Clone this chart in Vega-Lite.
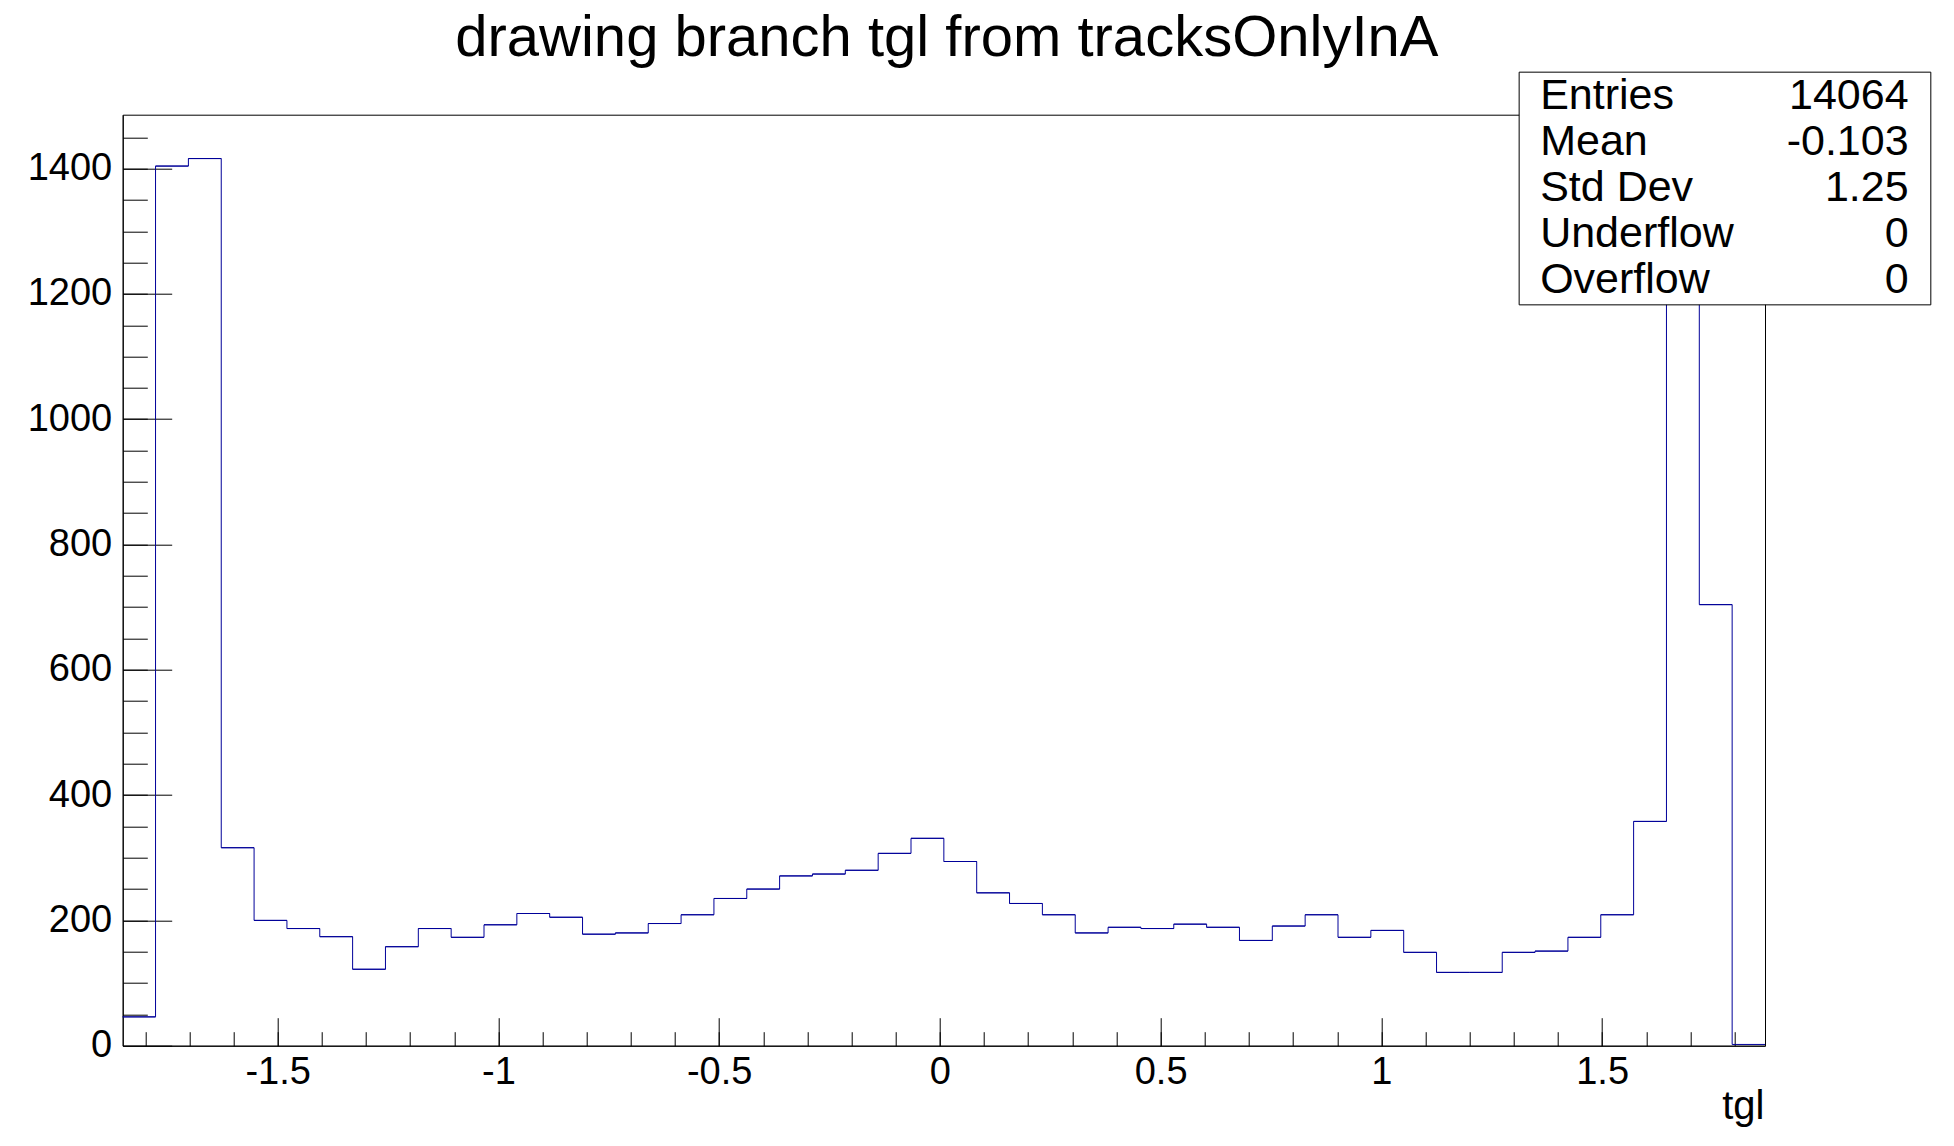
{
  "$schema": "https://vega.github.io/schema/vega-lite/v6.json",
  "width": 1642.3,
  "height": 931,
  "autosize": {"type": "none"},
  "padding": {"left": 122.7, "top": 114.7, "right": 189, "bottom": 100.3},
  "background": "white",
  "title": {"text": "drawing branch tgl from tracksOnlyInA", "font": "Liberation Sans", "fontSize": 58, "fontWeight": "normal", "color": "black", "anchor": "middle", "frame": "group", "baseline": "alphabetic", "offset": 17, "dx": 3, "dy": 59},
  "config": {
    "view": {"stroke": "black", "strokeWidth": 1},
    "axis": {"labelFont": "Liberation Sans", "labelFontSize": 38, "labelColor": "black", "tickColor": "black", "tickWidth": 1, "domainColor": "black", "domainWidth": 1, "grid": false, "titleFont": "Liberation Sans", "titleColor": "black", "titleFontWeight": "normal"}
  },
  "datasets": {
    "bins": [
      {"lo": -1.851, "hi": -1.7766, "count": 46},
      {"lo": -1.7766, "hi": -1.7022, "count": 1404},
      {"lo": -1.7022, "hi": -1.6278, "count": 1416},
      {"lo": -1.6278, "hi": -1.5534, "count": 316},
      {"lo": -1.5534, "hi": -1.479, "count": 200},
      {"lo": -1.479, "hi": -1.4046, "count": 187},
      {"lo": -1.4046, "hi": -1.3302, "count": 174},
      {"lo": -1.3302, "hi": -1.2558, "count": 122},
      {"lo": -1.2558, "hi": -1.1814, "count": 158},
      {"lo": -1.1814, "hi": -1.107, "count": 187},
      {"lo": -1.107, "hi": -1.0326, "count": 173},
      {"lo": -1.0326, "hi": -0.9582, "count": 193},
      {"lo": -0.9582, "hi": -0.8838, "count": 211},
      {"lo": -0.8838, "hi": -0.8094, "count": 205},
      {"lo": -0.8094, "hi": -0.735, "count": 178},
      {"lo": -0.735, "hi": -0.6606, "count": 180},
      {"lo": -0.6606, "hi": -0.5862, "count": 195},
      {"lo": -0.5862, "hi": -0.5118, "count": 209},
      {"lo": -0.5118, "hi": -0.4374, "count": 235},
      {"lo": -0.4374, "hi": -0.363, "count": 250},
      {"lo": -0.363, "hi": -0.2886, "count": 271},
      {"lo": -0.2886, "hi": -0.2142, "count": 274},
      {"lo": -0.2142, "hi": -0.1398, "count": 280},
      {"lo": -0.1398, "hi": -0.0654, "count": 307},
      {"lo": -0.0654, "hi": 0.009, "count": 331},
      {"lo": 0.009, "hi": 0.0834, "count": 294},
      {"lo": 0.0834, "hi": 0.1578, "count": 244},
      {"lo": 0.1578, "hi": 0.2322, "count": 227},
      {"lo": 0.2322, "hi": 0.3066, "count": 209},
      {"lo": 0.3066, "hi": 0.381, "count": 180},
      {"lo": 0.381, "hi": 0.4554, "count": 189},
      {"lo": 0.4554, "hi": 0.5298, "count": 187},
      {"lo": 0.5298, "hi": 0.6042, "count": 194},
      {"lo": 0.6042, "hi": 0.6786, "count": 189},
      {"lo": 0.6786, "hi": 0.753, "count": 168},
      {"lo": 0.753, "hi": 0.8274, "count": 191},
      {"lo": 0.8274, "hi": 0.9018, "count": 209},
      {"lo": 0.9018, "hi": 0.9762, "count": 173},
      {"lo": 0.9762, "hi": 1.0506, "count": 184},
      {"lo": 1.0506, "hi": 1.125, "count": 149},
      {"lo": 1.125, "hi": 1.1994, "count": 117},
      {"lo": 1.1994, "hi": 1.2738, "count": 117},
      {"lo": 1.2738, "hi": 1.3482, "count": 149},
      {"lo": 1.3482, "hi": 1.4226, "count": 151},
      {"lo": 1.4226, "hi": 1.497, "count": 173},
      {"lo": 1.497, "hi": 1.5714, "count": 209},
      {"lo": 1.5714, "hi": 1.6458, "count": 358},
      {"lo": 1.6458, "hi": 1.7202, "count": 1395},
      {"lo": 1.7202, "hi": 1.7946, "count": 704},
      {"lo": 1.7946, "hi": 1.869, "count": 2}
    ],
    "stats": [
      {"names": "Entries\nMean\nStd Dev\nUnderflow\nOverflow", "vals": "14064\n-0.103\n1.25\n0\n0"}
    ]
  },
  "layer": [
    {
      "data": {"name": "bins"},
      "mark": {"type": "line", "interpolate": "step-after", "color": "#000099", "strokeWidth": 1},
      "encoding": {
        "x": {"field": "lo", "type": "quantitative", "scale": {"domain": [-1.851, 1.869], "nice": false, "zero": false},
              "axis": {"orient": "bottom", "values": [-1.5, -1, -0.5, 0, 0.5, 1, 1.5], "labelExpr": "'' + datum.value", "ticks": false, "tickSize": 0, "labelPadding": 8, "labelFlush": false, "labelOverlap": false, "labelBaseline": "top", "title": "tgl", "titleFontSize": 40, "titleAlign": "right", "titleBaseline": "alphabetic", "titleX": 1641.3, "titleY": 73}},
        "y": {"field": "count", "type": "quantitative", "scale": {"domain": [0, 1486], "nice": false, "zero": false},
              "axis": {"orient": "left", "values": [0, 200, 400, 600, 800, 1000, 1200, 1400], "labelExpr": "'' + datum.value", "ticks": false, "tickSize": 0, "labelPadding": 11, "labelBaseline": "middle", "labelFlush": false, "labelOverlap": false, "title": null}}
      }
    },
    {
      "data": {"name": "bins"},
      "mark": {"type": "rule", "color": "#000099", "strokeWidth": 1},
      "encoding": {
        "x": {"field": "lo", "type": "quantitative", "scale": {"domain": [-1.851, 1.869], "nice": false, "zero": false},
              "axis": {"orient": "bottom", "values": [-1.5, -1, -0.5, 0, 0.5, 1, 1.5], "labels": false, "tickSize": -28, "domain": false, "title": null}},
        "x2": {"field": "hi"},
        "y": {"field": "count", "type": "quantitative", "scale": {"domain": [0, 1486], "nice": false, "zero": false},
              "axis": {"orient": "left", "values": [0, 200, 400, 600, 800, 1000, 1200, 1400], "labels": false, "tickSize": -49, "domain": false, "title": null}}
      }
    },
    {
      "data": {"name": "stats"},
      "mark": {"type": "rect", "fill": "white", "stroke": "black", "strokeWidth": 1, "clip": false},
      "encoding": {
        "x": {"datum": 1.3121, "type": "quantitative", "scale": {"domain": [-1.851, 1.869], "nice": false, "zero": false},
              "axis": {"orient": "bottom", "values": [-1.8, -1.7, -1.6, -1.5, -1.4, -1.3, -1.2, -1.1, -1.0, -0.9, -0.8, -0.7, -0.6, -0.5, -0.4, -0.3, -0.2, -0.1, 0, 0.1, 0.2, 0.3, 0.4, 0.5, 0.6, 0.7, 0.8, 0.9, 1.0, 1.1, 1.2, 1.3, 1.4, 1.5, 1.6, 1.7, 1.8], "labels": false, "tickSize": -14, "domain": false, "title": null}},
        "x2": {"datum": 2.2446},
        "y": {"datum": 1553.9, "type": "quantitative", "scale": {"domain": [0, 1486], "nice": false, "zero": false},
              "axis": {"orient": "left", "values": [50, 100, 150, 200, 250, 300, 350, 400, 450, 500, 550, 600, 650, 700, 750, 800, 850, 900, 950, 1000, 1050, 1100, 1150, 1200, 1250, 1300, 1350, 1400, 1450], "labels": false, "tickSize": -24.6, "domain": false, "title": null}},
        "y2": {"datum": 1182.5}
      }
    },
    {
      "data": {"name": "stats"},
      "mark": {"type": "text", "lineBreak": "\n", "lineHeight": 46.1, "align": "left", "baseline": "alphabetic", "font": "Liberation Sans", "fontSize": 43, "color": "black", "clip": false},
      "encoding": {
        "x": {"datum": 1.3597, "type": "quantitative", "scale": {"domain": [-1.851, 1.869], "nice": false, "zero": false}, "axis": null},
        "y": {"datum": 1495.8, "type": "quantitative", "scale": {"domain": [0, 1486], "nice": false, "zero": false}, "axis": null},
        "text": {"field": "names"}
      }
    },
    {
      "data": {"name": "stats"},
      "mark": {"type": "text", "lineBreak": "\n", "lineHeight": 46.1, "align": "right", "baseline": "alphabetic", "font": "Liberation Sans", "fontSize": 43, "color": "black", "clip": false},
      "encoding": {
        "x": {"datum": 2.1943, "type": "quantitative", "scale": {"domain": [-1.851, 1.869], "nice": false, "zero": false}, "axis": null},
        "y": {"datum": 1495.8, "type": "quantitative", "scale": {"domain": [0, 1486], "nice": false, "zero": false}, "axis": null},
        "text": {"field": "vals"}
      }
    }
  ],
  "resolve": {"axis": {"x": "independent", "y": "independent"}}
}
